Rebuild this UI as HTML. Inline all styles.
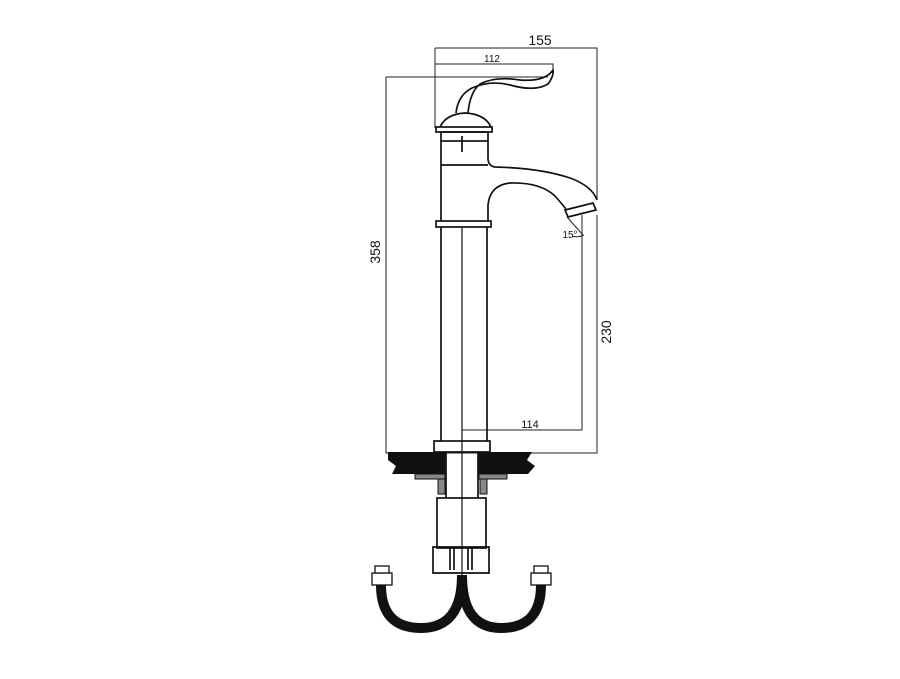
<!DOCTYPE html>
<html><head><style>body{margin:0;background:#fff}svg{display:block}</style></head><body>
<svg width="900" height="679" viewBox="0 0 900 679" xmlns="http://www.w3.org/2000/svg" font-family="Liberation Sans, sans-serif">
<rect width="900" height="679" fill="#fff"/>
<g fill="none" stroke="#222" stroke-width="1">
<path d="M435 48H597V200"/>
<path d="M435 48V128"/>
<path d="M435 64H553V72"/>
<path d="M386 77H548"/>
<path d="M386 77V453H597V215"/>
<path d="M462 430H582V215"/>
<path d="M567 217L583 235"/>
<path d="M572 236Q578 238 584 235"/>
</g>
<g fill="none" stroke="#111" stroke-width="1.7">
<path d="M456 113Q458 95 472 88Q490 80 510 85Q535 92 548 84Q554 76 553 70Q545 82 520 80Q495 76 480 84Q470 92 468 113"/>
<path d="M440 127Q446 114 465 113Q485 114 491 127"/>
<rect x="436" y="127" width="56" height="5"/>
<rect x="441" y="132" width="47" height="9"/>
<path d="M462 136V152"/>
<path d="M441 141V221M488 141V158Q488 166 495 167Q540 168 570 178Q592 186 597 200"/>
<path d="M441 165H488"/>
<path d="M488 221V205Q490 185 510 183Q540 182 555 196Q562 204 566 209"/>
<path d="M565 210L593 203L596 210L568 217Z"/>
<rect x="436" y="221" width="55" height="6"/>
<path d="M441 227V441M487 227V441"/>
<path d="M462 227V575" stroke-width="1.2"/>
<rect x="434" y="441" width="56" height="11"/>
<path d="M446 452V498M478 452V498"/>
<rect x="437" y="498" width="49" height="50"/>
<path d="M433 547H489V573H433Z"/>
<path d="M450 548V570M454 548V570M468 548V570M472 548V570"/>
</g>
<path d="M388 452H446V474H392L396 466L388 460Z" fill="#111"/>
<path d="M478 452H532L527 460L535 466L528 474H478Z" fill="#111"/>
<rect x="415" y="474" width="30" height="5" fill="#888" stroke="#111"/>
<rect x="479" y="474" width="28" height="5" fill="#888" stroke="#111"/>
<rect x="438" y="479" width="7" height="15" fill="#888" stroke="#111"/>
<rect x="480" y="479" width="7" height="15" fill="#888" stroke="#111"/>
<g fill="none" stroke="#111" stroke-width="10">
<path d="M381 585Q381 628 421 628Q462 628 462 575"/>
<path d="M541 585Q541 628 501 628Q462 628 462 575"/>
</g>
<g fill="#fff" stroke="#111" stroke-width="1.3">
<rect x="372" y="573" width="20" height="12"/>
<rect x="375" y="566" width="14" height="7"/>
<rect x="531" y="573" width="20" height="12"/>
<rect x="534" y="566" width="14" height="7"/>
</g>
<g font-size="14" fill="#111">
<text x="540" y="45" text-anchor="middle">155</text>
<text x="492" y="62" text-anchor="middle" font-size="10">112</text>
<text x="530" y="428" text-anchor="middle" font-size="11">114</text>
<text x="570" y="238" text-anchor="middle" font-size="10">15°</text>
<text transform="translate(380 252) rotate(-90)" text-anchor="middle">358</text>
<text transform="translate(611 332) rotate(-90)" text-anchor="middle">230</text>
</g>
</svg>
</body></html>
